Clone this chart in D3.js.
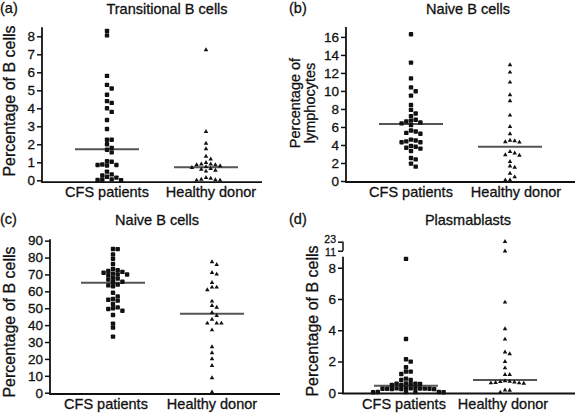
<!DOCTYPE html>
<html><head><meta charset="utf-8">
<script src="https://cdn.jsdelivr.net/npm/d3@7"></script>
<style>
html,body{margin:0;padding:0;background:#fff;}
svg text{font-family:"Liberation Sans",Arial,Helvetica,sans-serif;fill:#111;stroke:#111;stroke-width:0.3px;}
</style></head>
<body><svg id="chart" width="577" height="413"></svg>
<script>
// ---------- data ----------
const categories = ["CFS patients", "Healthy donor"];
const panelLetters = ["(a)", "(b)", "(c)", "(d)"];
const titles = ["Transitional B cells", "Naive B cells", "Naive B cells", "Plasmablasts"];
const yLabels = [["Percentage of B cells"], ["Percentage of", "lymphocytes"], ["Percentage of B cells"], ["Percentage of B cells"]];

const aTicks = [0, 1, 2, 3, 4, 5, 6, 7, 8];
const bTicks = [0, 2, 4, 6, 8, 10, 12, 14, 16];
const cTicks = [0, 10, 20, 30, 40, 50, 60, 70, 80, 90];
const dTicks = [0, 2, 4, 6, 8, 11, 23];

const aCFS = [8.3, 8.05, 5.8, 5.3, 5.1, 4.75, 4.4, 4.3, 4.0, 3.8, 3.35, 2.85, 2.25, 2.25, 2.0, 1.8, 1.7, 1.55, 1.06, 1.03, 0.88, 0.85, 0.85, 0.82, 0.48, 0.33, 0.27, 0.2, 0.15, 0.05, 0.03, 0.02, 0.0];
const aHD  = [7.24, 2.7, 2.05, 1.74, 1.33, 1.17, 0.98, 0.9, 0.9, 0.85, 0.85, 0.8, 0.75, 0.6, 0.5, 0.7, 0.55, 0.65, 0.1, 0.05, 0.0, 0.0, 0.02, 0.15];
const aMedians = [1.72, 0.72];

const bCFS = [16.3, 13.15, 11.4, 10.4, 9.96, 9.48, 8.44, 7.9, 7.5, 7.2, 6.8, 6.7, 6.6, 6.5, 6.4, 6.2, 5.6, 5.5, 5.35, 5.25, 4.6, 4.5, 4.4, 4.3, 4.3, 3.9, 3.8, 3.7, 3.6, 3.33, 2.55, 2.4, 1.93, 1.6];
const bHD  = [12.9, 12.07, 10.96, 9.55, 8.89, 7.3, 6.04, 5.22, 4.5, 4.45, 4.35, 4.3, 3.26, 3.1, 2.9, 2.85, 2.15, 1.65, 1.5, 0.85, 0.44, 0.1, 0.1];
const bMedians = [6.33, 3.8];

const cCFS = [85.1, 85.0, 81.9, 79.3, 76.2, 73.2, 72.5, 72, 71.5, 71, 70.5, 70, 70, 69.5, 68, 67.5, 67, 65.7, 65.5, 64, 63.5, 63, 59.2, 57, 55.5, 55, 54.5, 52.5, 50.5, 50, 49.5, 48.5, 46, 40.9, 38.5, 33.2];
const cHD  = [77.4, 75.8, 71.1, 70.1, 65.1, 62.4, 62.4, 60.8, 54.1, 51.5, 50.5, 47.4, 45.6, 43.4, 41.1, 41.1, 41.1, 37.1, 27.1, 23.5, 20, 16, 8.7, 0.3];
const cMedians = [65.1, 46.8];

const dCFS = [8.57, 3.44, 2.14, 1.99, 1.63, 1.35, 1.35, 1.2, 0.9, 0.81, 0.81, 0.6, 0.58, 0.58, 0.56, 0.55, 0.5, 0.5, 0.3, 0.28, 0.28, 0.27, 0.26, 0.25, 0.25, 0.25, 0.24, 0.24, 0.23, 0.3, 0.05, 0.05, 0.04, 0.04, 0.03, 0.03];
const dHD  = [23, 10.8, 5.79, 4.08, 3.42, 2.6, 2.48, 1.99, 1.58, 1.15, 1.15, 0.75, 0.7, 0.65, 0.62, 0.6, 0.62, 0.68, 0.72, 0.17, 0.15, 0.02];
const dMedians = [0.45, 0.81];

// ---------- layout ----------
const panels = [
  {letter: panelLetters[0], title: titles[0], ylab: yLabels[0], series: [aCFS, aHD], medians: aMedians, ticks: aTicks,
   yDomain: [-0.1, 8.5], yRange: [182.1, 27.3], x0: 42, x1: 262, cx: [107, 206], lx: [107, 211],
   titleX: 167, titleY: 14, letterX: 0, letterY: 13, ylabX: [15], ylabY: 101, ylabSize: 16},
  {letter: panelLetters[1], title: titles[1], ylab: yLabels[1], series: [bCFS, bHD], medians: bMedians, ticks: bTicks,
   yDomain: [-0.11, 17.1], yRange: [182, 27], x0: 346, x1: 575, cx: [411, 510], lx: [411, 516],
   titleX: 468, titleY: 14, letterX: 289, letterY: 13, ylabX: [300, 315], ylabY: 103, ylabSize: 14.5},
  {letter: panelLetters[2], title: titles[2], ylab: yLabels[2], series: [cCFS, cHD], medians: cMedians, ticks: cTicks,
   yDomain: [-0.77, 90.8], yRange: [394, 239.3], x0: 50, x1: 280, cx: [113, 212], lx: [106, 212],
   titleX: 157, titleY: 225, letterX: 0, letterY: 224, ylabX: [15], ylabY: 322, ylabSize: 16},
  {letter: panelLetters[3], title: titles[3], ylab: yLabels[3], series: [dCFS, dHD], medians: dMedians, ticks: dTicks,
   yDomain: [-0.05, 8.7, 11, 23], yRange: [393.5, 256.8, 250.7, 241.7], x0: 343, x1: 575, cx: [406, 505], lx: [404, 503],
   titleX: 468, titleY: 225, letterX: 289, letterY: 224, ylabX: [318], ylabY: 321, ylabSize: 16, broken: true}
];

const svg = d3.select("#chart");

function swarm(vals, y, cx, step, minDy) {
  const pts = vals.map(v => ({v, py: y(v)})).sort((a, b) => a.py - b.py);
  const placed = [];
  const order = [0];
  for (let i = 1; i < 20; i++) { order.push(i, -i); }
  pts.forEach(p => {
    for (const k of order) {
      if (!placed.some(q => q.k === k && Math.abs(q.py - p.py) < minDy)) { p.k = k; break; }
    }
    placed.push(p);
    p.px = cx + p.k * step;
  });
  return pts;
}

panels.forEach(P => {
  const g = svg.append("g");
  const y = d3.scaleLinear().domain(P.yDomain).range(P.yRange);
  const xc = d3.scalePoint().domain(categories).range(P.cx);
  const xl = d3.scalePoint().domain(categories).range(P.lx);

  // axis lines
  if (P.broken) {
    g.append("line").attr("x1", P.x0).attr("x2", P.x0).attr("y1", y(P.yDomain[0])).attr("y2", y(P.yDomain[1]))
      .attr("stroke", "#111").attr("stroke-width", 1.8);
    g.append("line").attr("x1", P.x0).attr("x2", P.x0).attr("y1", y(P.yDomain[2])).attr("y2", y(P.yDomain[3]))
      .attr("stroke", "#111").attr("stroke-width", 1.5);
  } else {
    g.append("line").attr("x1", P.x0).attr("x2", P.x0).attr("y1", P.yRange[0]).attr("y2", P.yRange[1])
      .attr("stroke", "#111").attr("stroke-width", 1.8);
  }
  g.append("line").attr("x1", P.x0 - 0.9).attr("x2", P.x1).attr("y1", P.yRange[0]).attr("y2", P.yRange[0])
    .attr("stroke", "#111").attr("stroke-width", 1.8);

  // ticks
  const ax = d3.axisLeft(y).tickValues(P.ticks).tickSize(5).tickPadding(2).tickFormat(d3.format("d"));
  const ag = g.append("g").attr("transform", `translate(${P.x0},0)`).call(ax);
  ag.select(".domain").remove();
  ag.selectAll(".tick line").attr("stroke", "#111").attr("stroke-width", 1.5);
  ag.selectAll(".tick text")
    .attr("font-size", d => (P.broken && d > 10) ? 10.5 : 13.5)
    .attr("dy", d => (P.broken && d === 23) ? "0.1em" : (P.broken && d === 11) ? "0.5em" : "0.32em")
    .attr("font-family", '"Liberation Sans",Arial,sans-serif').attr("fill", "#111");

  // category labels
  categories.forEach(c => {
    g.append("text").attr("x", xl(c)).attr("y", P.yRange[0] + 15).attr("text-anchor", "middle")
      .attr("font-size", 14.5).text(c);
  });

  // title + letter
  g.append("text").attr("x", P.titleX).attr("y", P.titleY).attr("text-anchor", "middle").attr("font-size", 14.5).text(P.title);
  g.append("text").attr("x", P.letterX).attr("y", P.letterY).attr("font-size", 14.5).text(P.letter);

  // y label
  P.ylab.forEach((t, i) => {
    g.append("text").attr("transform", `translate(${P.ylabX[i]},${P.ylabY}) rotate(-90)`)
      .attr("text-anchor", "middle").attr("font-size", P.ylabSize).text(t);
  });

  // medians
  categories.forEach((c, i) => {
    g.append("line").attr("x1", xc(c) - 32).attr("x2", xc(c) + 32)
      .attr("y1", y(P.medians[i])).attr("y2", y(P.medians[i]))
      .attr("stroke", "#555").attr("stroke-width", 2);
  });

  // points
  const cfsPts = swarm(P.series[0], y, xc(categories[0]), 4.7, 4);
  g.selectAll(".sq").data(cfsPts).enter().append("rect")
    .attr("x", d => d.px - 2.2).attr("y", d => d.py - 2.2).attr("width", 4.4).attr("height", 4.4)
    .attr("rx", 0.9).attr("fill", "#111");
  const hdPts = swarm(P.series[1], y, xc(categories[1]), 4.7, 4);
  const tri = d3.symbol().type(d3.symbolTriangle).size(9);
  g.selectAll(".tr").data(hdPts).enter().append("path")
    .attr("d", tri).attr("transform", d => `translate(${d.px},${d.py})`).attr("fill", "#111");
});
</script></body></html>
